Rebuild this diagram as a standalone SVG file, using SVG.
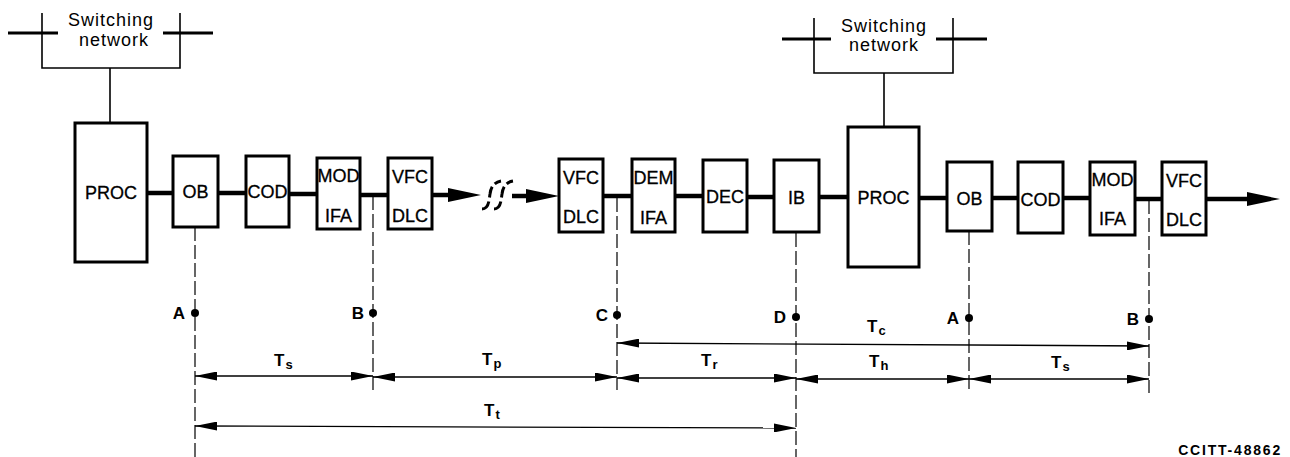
<svg xmlns="http://www.w3.org/2000/svg" width="1290" height="457" viewBox="0 0 1290 457">
<style>
.box{fill:#fff;stroke:#000;stroke-width:3}
.bl{font-family:"Liberation Sans",Arial,sans-serif;font-size:18px;text-anchor:middle;fill:#000;stroke:#000;stroke-width:0.3}
.sw{font-family:"Liberation Sans",Arial,sans-serif;font-size:18px;text-anchor:middle;fill:#000;letter-spacing:1px}
.thin{stroke:#000;stroke-width:1.6;fill:none}
.xbar{stroke:#000;stroke-width:3;fill:none}
.main{stroke:#000;stroke-width:4.5;fill:none}
.dash{stroke:#000;stroke-width:1.2;stroke-dasharray:14 4;fill:none}
.dim{stroke:#000;stroke-width:1.3;fill:none;marker-start:url(#dim);marker-end:url(#dim)}
.pt{font-family:"Liberation Sans",Arial,sans-serif;font-size:17px;font-weight:bold;text-anchor:middle;fill:#000}
.tl{font-family:"Liberation Sans",Arial,sans-serif;font-size:17px;font-weight:bold;fill:#000}
.sub{font-size:13px}
</style>
<defs>
<marker id="dim" viewBox="0 0 22 9" refX="22" refY="4.5" markerWidth="22" markerHeight="9" markerUnits="userSpaceOnUse" orient="auto-start-reverse"><path d="M0,0 L22,4.5 L0,9 z" fill="#000"/></marker>
<marker id="big" viewBox="0 0 33 14" refX="0" refY="7" markerWidth="33" markerHeight="14" markerUnits="userSpaceOnUse" orient="auto"><path d="M0,0 L33,7 L0,14 z" fill="#000"/></marker>
</defs>
<rect width="1290" height="457" fill="#fff"/>

<g id="connectors">
<line class="main" x1="147" y1="193" x2="173" y2="193"/>
<line class="main" x1="218" y1="193" x2="246" y2="193"/>
<line class="main" x1="289" y1="194" x2="317" y2="194"/>
<line class="main" x1="360" y1="195" x2="388" y2="195"/>
<line class="main" x1="432" y1="195" x2="448" y2="195" marker-end="url(#big)"/>
<line class="main" x1="512" y1="196" x2="526" y2="196" marker-end="url(#big)"/>
<line class="main" x1="603" y1="196" x2="632" y2="196"/>
<line class="main" x1="675" y1="196" x2="703" y2="196"/>
<line class="main" x1="747" y1="197" x2="774" y2="197"/>
<line class="main" x1="819" y1="197" x2="848" y2="197"/>
<line class="main" x1="919" y1="198" x2="947" y2="198"/>
<line class="main" x1="992" y1="198" x2="1018" y2="198"/>
<line class="main" x1="1063" y1="198" x2="1090" y2="198"/>
<line class="main" x1="1135" y1="199" x2="1162" y2="199"/>
<line class="main" x1="1206" y1="199" x2="1247" y2="199" marker-end="url(#big)"/>
<path class="xbar" stroke-width="2.5" stroke-dasharray="11 4" d="M482 209 C489 209 489 200 490 194 C491 186 495 182 501 181"/>
<path class="xbar" stroke-width="2.5" stroke-dasharray="11 4" d="M494 209 C501 209 501 200 502 194 C503 186 507 182 513 181"/>
<line class="thin" x1="110" y1="68" x2="110" y2="123"/>
<line class="thin" x1="884" y1="73" x2="884" y2="127"/>
<line class="dash" x1="195" y1="227" x2="195" y2="457"/>
<line class="dash" x1="373" y1="196" x2="373" y2="390"/>
<line class="dash" x1="617" y1="198" x2="617" y2="390"/>
<line class="dash" x1="796" y1="233" x2="796" y2="457"/>
<line class="dash" x1="969" y1="231" x2="969" y2="393"/>
<line class="dash" x1="1149" y1="200" x2="1149" y2="393"/>
<line class="dim" x1="195" y1="376" x2="373" y2="376"/>
<line class="dim" x1="373" y1="377" x2="617" y2="377"/>
<line class="dim" x1="617" y1="378" x2="796" y2="378"/>
<line class="dim" x1="796" y1="379" x2="969" y2="379"/>
<line class="dim" x1="969" y1="379" x2="1149" y2="379"/>
<line class="dim" x1="617" y1="343" x2="1149" y2="346"/>
<line class="dim" x1="195" y1="426" x2="796" y2="428"/>
</g>

<g id="switch-left">
<line class="xbar" x1="8" y1="33" x2="58" y2="33"/>
<line class="xbar" x1="163" y1="33" x2="213" y2="33"/>
<path class="thin" d="M42 13 V68 H180 V13"/>
<text class="sw" x="111" y="26">Switching</text>
<text class="sw" x="114" y="46">network</text>
</g>
<g id="switch-right">
<line class="xbar" x1="782" y1="39" x2="831" y2="39"/>
<line class="xbar" x1="936" y1="39" x2="987" y2="39"/>
<path class="thin" d="M814 18 V73 H953 V18"/>
<text class="sw" x="884" y="32">Switching</text>
<text class="sw" x="884" y="51">network</text>
</g>

<g id="proc1"><rect class="box" x="75" y="123" width="72" height="139"/><text class="bl" x="111" y="199">PROC</text></g>
<g id="ob1"><rect class="box" x="173" y="156" width="45" height="71"/><text class="bl" x="195.5" y="198">OB</text></g>
<g id="cod1"><rect class="box" x="246" y="156" width="43" height="71"/><text class="bl" x="267.5" y="198">COD</text></g>
<g id="mod1"><rect class="box" x="317" y="158" width="43" height="71"/><text class="bl" x="338.5" y="182">MOD</text><text class="bl" x="338.5" y="222">IFA</text></g>
<g id="vfc1"><rect class="box" x="388" y="158" width="44" height="71"/><text class="bl" x="410" y="183">VFC</text><text class="bl" x="410" y="222">DLC</text></g>
<g id="vfc2"><rect class="box" x="559" y="159" width="44" height="73"/><text class="bl" x="581" y="184">VFC</text><text class="bl" x="581" y="223">DLC</text></g>
<g id="dem"><rect class="box" x="632" y="159" width="43" height="73"/><text class="bl" x="653.5" y="184">DEM</text><text class="bl" x="653.5" y="224">IFA</text></g>
<g id="dec"><rect class="box" x="703" y="160" width="44" height="72"/><text class="bl" x="725" y="203">DEC</text></g>
<g id="ib"><rect class="box" x="774" y="160" width="45" height="72"/><text class="bl" x="796.5" y="204">IB</text></g>
<g id="proc2"><rect class="box" x="848" y="127" width="71" height="140"/><text class="bl" x="883.5" y="204">PROC</text></g>
<g id="ob2"><rect class="box" x="947" y="162" width="45" height="69"/><text class="bl" x="969.5" y="205">OB</text></g>
<g id="cod2"><rect class="box" x="1018" y="162" width="45" height="71"/><text class="bl" x="1040.5" y="206">COD</text></g>
<g id="mod2"><rect class="box" x="1090" y="162" width="45" height="73"/><text class="bl" x="1112.5" y="186">MOD</text><text class="bl" x="1112.5" y="225">IFA</text></g>
<g id="vfc3"><rect class="box" x="1162" y="162" width="44" height="73"/><text class="bl" x="1184" y="187">VFC</text><text class="bl" x="1184" y="226">DLC</text></g>

<g id="points">
<circle cx="195" cy="313" r="4"/><text class="pt" x="179" y="319">A</text>
<circle cx="373" cy="313" r="4"/><text class="pt" x="358" y="319">B</text>
<circle cx="617" cy="315" r="4"/><text class="pt" x="602" y="321">C</text>
<circle cx="796" cy="317" r="4"/><text class="pt" x="780" y="323">D</text>
<circle cx="969" cy="318" r="4"/><text class="pt" x="953" y="324">A</text>
<circle cx="1149" cy="319" r="4"/><text class="pt" x="1133" y="325">B</text>
</g>

<g id="dim-labels">
<text class="tl" x="274" y="366">T<tspan class="sub" dx="1" dy="3">s</tspan></text>
<text class="tl" x="482" y="365">T<tspan class="sub" dx="1" dy="3">p</tspan></text>
<text class="tl" x="701" y="366">T<tspan class="sub" dx="1" dy="3">r</tspan></text>
<text class="tl" x="867" y="332">T<tspan class="sub" dx="1" dy="3">c</tspan></text>
<text class="tl" x="869" y="367">T<tspan class="sub" dx="1" dy="3">h</tspan></text>
<text class="tl" x="1051" y="368">T<tspan class="sub" dx="1" dy="3">s</tspan></text>
<text class="tl" x="484" y="416">T<tspan class="sub" dx="1" dy="3">t</tspan></text>
</g>

<text id="ref" x="1282" y="455" font-family="Liberation Sans, Arial, sans-serif" font-size="14" font-weight="bold" text-anchor="end" letter-spacing="1.8">CCITT-48862</text>
</svg>
